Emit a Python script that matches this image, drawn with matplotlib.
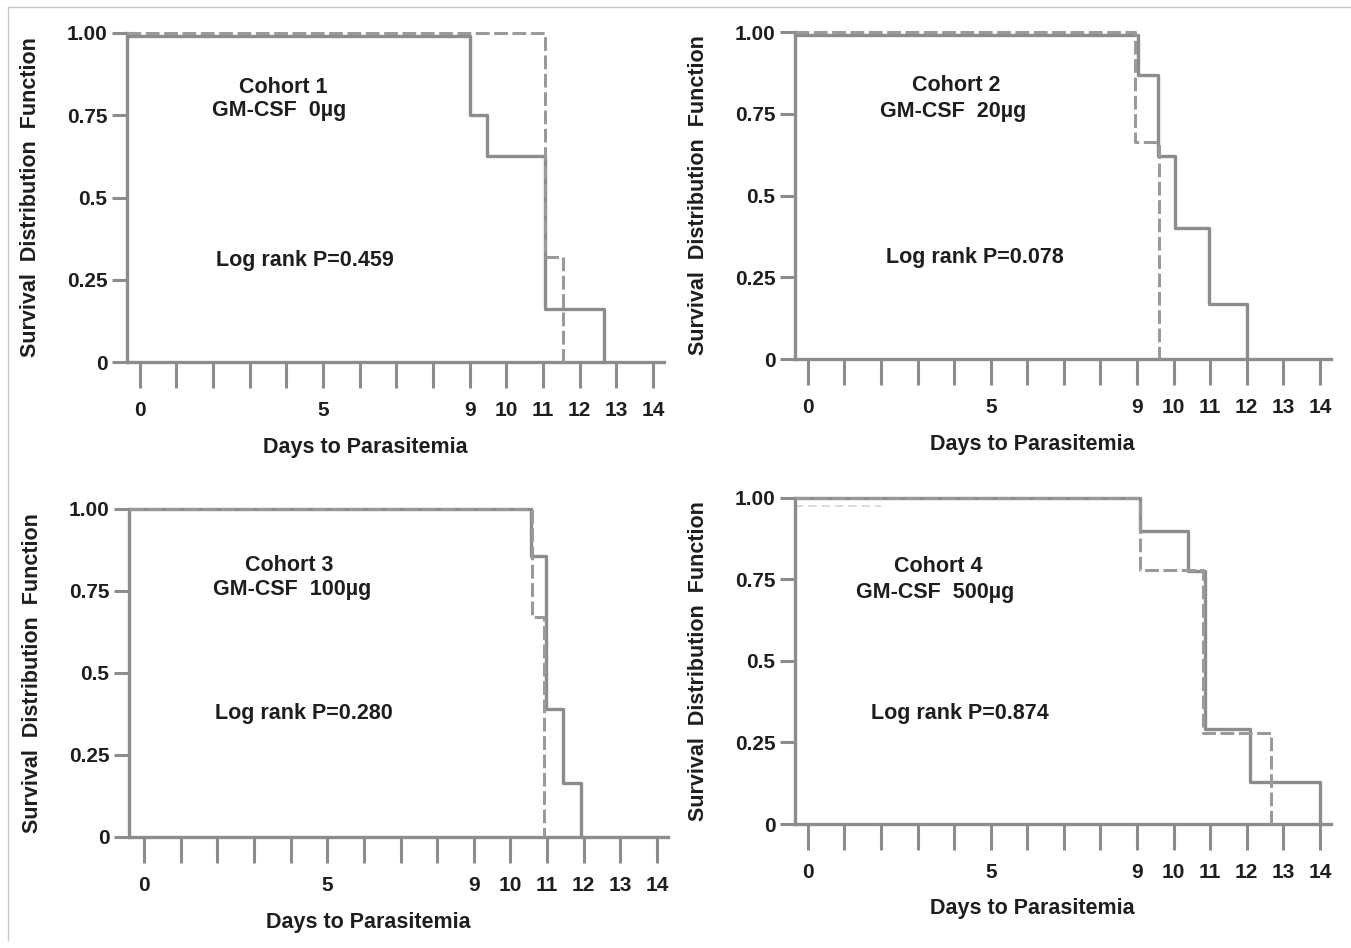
import numpy as np
import matplotlib
matplotlib.use('Agg')
from matplotlib import pyplot as plt
from matplotlib.lines import Line2D

plt.rcParams['font.family'] = ['Liberation Sans', 'DejaVu Sans']
plt.rcParams['font.weight'] = 'bold'

GREY = '#8c8c8c'
DASH_GREY = '#9a9a9a'
TEXT = '#1e1e1e'

days = list(range(15))
day_labels = ['0', '', '', '', '', '5', '', '', '', '9', '10', '11', '12', '13', '14']
surv_ticks = [0, 0.25, 0.5, 0.75, 1.0]
surv_labels = ['0', '0.25', '0.5', '0.75', '1.00']

# cohort 1: GM-CSF 0ug
c1_solid_t = [0, 9.0, 9.47, 11.05, 12.65]
c1_solid_s = [0.99, 0.75, 0.625, 0.16, 0]
c1_dash_t = [0, 11.06, 11.55]
c1_dash_s = [1.0, 0.32, 0]

# cohort 2: GM-CSF 20ug
c2_solid_t = [0, 9.02, 9.57, 10.05, 10.98, 12.0]
c2_solid_s = [0.99, 0.87, 0.62, 0.40, 0.167, 0]
c2_dash_t = [0, 8.95, 9.6]
c2_dash_s = [1.0, 0.665, 0]

# cohort 3: GM-CSF 100ug
c3_solid_t = [0, 10.57, 10.98, 11.42, 11.93]
c3_solid_s = [1.0, 0.857, 0.39, 0.165, 0]
c3_dash_t = [0, 10.6, 10.92]
c3_dash_s = [1.0, 0.67, 0]

# cohort 4: GM-CSF 500ug
c4_solid_t = [0, 9.07, 10.39, 10.87, 12.1, 14.0]
c4_solid_s = [1.0, 0.90, 0.777, 0.29, 0.13, 0]
c4_dash_t = [0, 9.07, 10.8, 12.65]
c4_dash_s = [1.0, 0.78, 0.28, 0]
c4_faint_t = [0, 2.0]
c4_faint_s = [0.975, 0.975]

cohorts = ['Cohort 1', 'Cohort 2', 'Cohort 3', 'Cohort 4']
doses = ['GM-CSF  0\u00b5g', 'GM-CSF  20\u00b5g', 'GM-CSF  100\u00b5g', 'GM-CSF  500\u00b5g']
pvalues = ['0.459', '0.078', '0.280', '0.874']

panels = [
    dict(rect=[0.0940, 0.6181, 0.3975, 0.3471], xmin=-0.35,
         solid=(c1_solid_t, c1_solid_s), dash=(c1_dash_t, c1_dash_s),
         head=(3.9, 0.835), dose=(3.8, 0.763), prank=(4.5, 0.31)),
    dict(rect=[0.5884, 0.6213, 0.3967, 0.3449], xmin=-0.355,
         solid=(c2_solid_t, c2_solid_s), dash=(c2_dash_t, c2_dash_s),
         head=(4.05, 0.835), dose=(3.96, 0.758), prank=(4.57, 0.31)),
    dict(rect=[0.0955, 0.1171, 0.3990, 0.3460], xmin=-0.41,
         solid=(c3_solid_t, c3_solid_s), dash=(c3_dash_t, c3_dash_s),
         head=(3.96, 0.829), dose=(4.03, 0.753), prank=(4.36, 0.378)),
    dict(rect=[0.5884, 0.1308, 0.3967, 0.3439], xmin=-0.355,
         solid=(c4_solid_t, c4_solid_s), dash=(c4_dash_t, c4_dash_s),
         head=(3.56, 0.79), dose=(3.47, 0.71), prank=(4.16, 0.34)),
]

fig = plt.figure(figsize=(13.51, 9.48), dpi=100)

for i, p in enumerate(panels):
    ax = fig.add_axes(p['rect'])
    ax.set_xlim(p['xmin'], 14.3)
    ax.set_ylim(0, 1.0)

    st, ss = p['solid']
    dt, ds = p['dash']
    ax.step([p['xmin']] + st[1:], ss, where='post', color=GREY, lw=2.4,
            clip_on=False, solid_capstyle='butt', zorder=3)
    ax.step([p['xmin']] + dt[1:], ds, where='post', color=DASH_GREY, lw=2.2,
            ls=(0, (4.5, 1.5)), clip_on=False, zorder=4)
    if i == 3:
        ax.plot([p['xmin']] + c4_faint_t[1:], c4_faint_s, color='#d4d4d4',
                lw=1.2, ls=(0, (5, 3)), clip_on=False, zorder=2)

    for s in ['top', 'right']:
        ax.spines[s].set_visible(False)
    for s in ['left', 'bottom']:
        ax.spines[s].set_color(GREY)
        ax.spines[s].set_linewidth(2.4)

    ax.set_xticks(days)
    ax.set_xticklabels(day_labels)
    ax.set_yticks(surv_ticks)
    ax.set_yticklabels(surv_labels)
    ax.tick_params(axis='x', direction='out', length=19, width=2.2, color=GREY,
                   labelsize=15, labelcolor=TEXT, pad=9)
    ax.tick_params(axis='y', direction='out', length=11, width=2.2, color=GREY,
                   labelsize=15, labelcolor=TEXT, pad=3)

    ax.set_xlabel('Days to Parasitemia', fontsize=15.5, color=TEXT,
                  fontweight='bold')
    ax.xaxis.set_label_coords(0.443, -0.228)
    ax.set_ylabel('Survival  Distribution  Function', fontsize=15.5, color=TEXT,
                  fontweight='bold')
    ax.yaxis.set_label_coords(-0.160, 0.5)

    ax.text(*p['head'], cohorts[i], ha='center', va='center', fontsize=15.5,
            color=TEXT, fontweight='bold')
    ax.text(*p['dose'], doses[i], ha='center', va='center', fontsize=15.5,
            color=TEXT, fontweight='bold')
    ax.text(*p['prank'], 'Log rank P=' + pvalues[i], ha='center', va='center',
            fontsize=15.5, color=TEXT, fontweight='bold')

# thin frame lines of the original figure
fig.add_artist(Line2D([0.0059, 0.0059], [0.008, 0.9926], color='#c8c8c8', lw=1))
fig.add_artist(Line2D([0.0059, 1.0], [0.9926, 0.9926], color='#c8c8c8', lw=1))

fig.savefig('out.png', dpi=100, facecolor='white')
